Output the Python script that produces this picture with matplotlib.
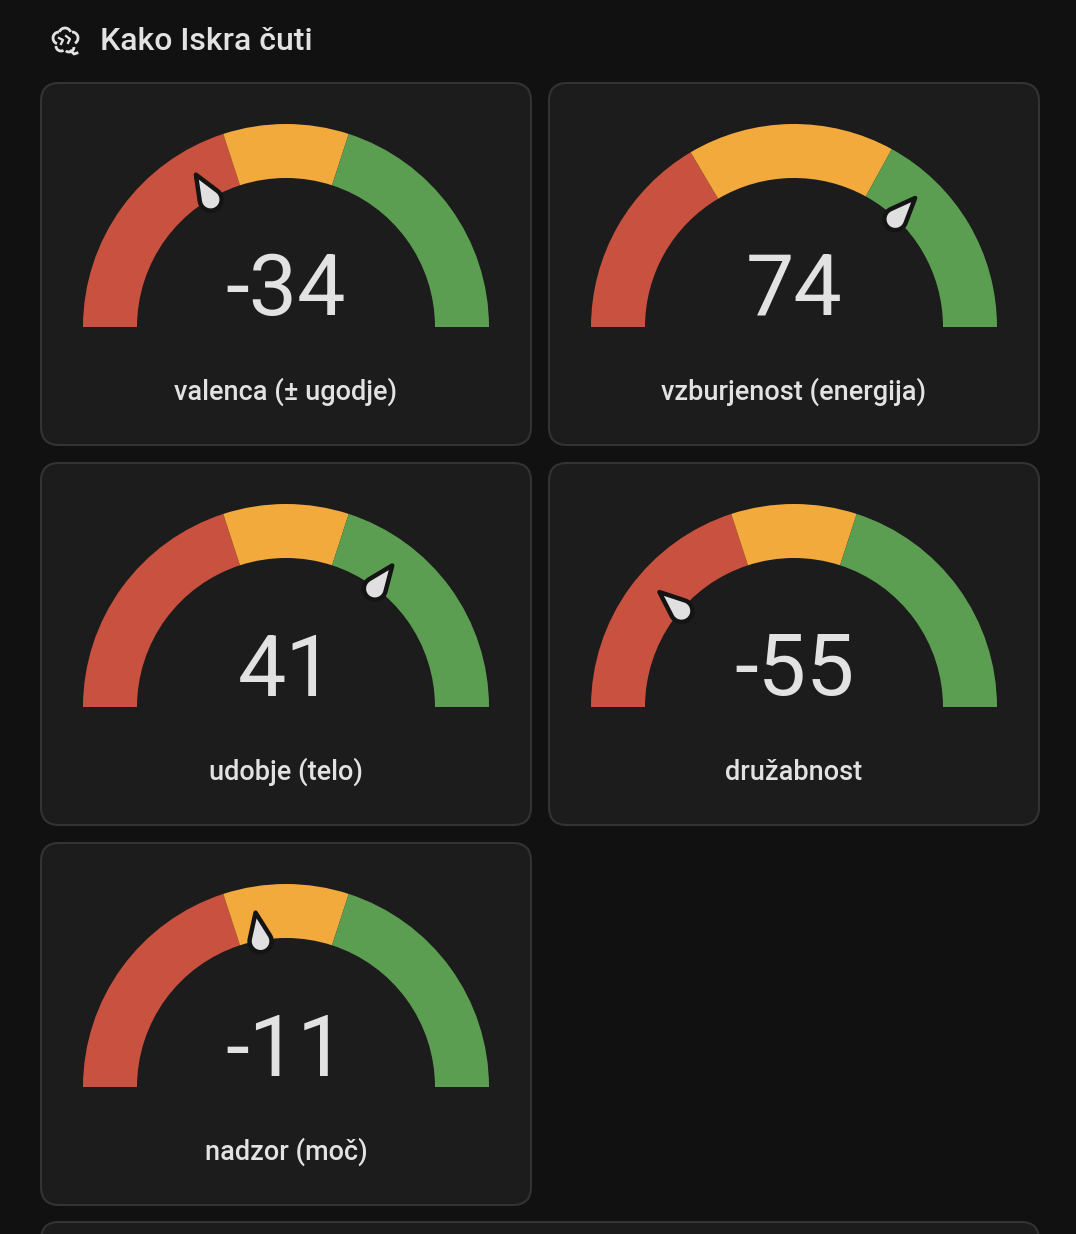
import matplotlib.pyplot as plt
import numpy as np
from matplotlib.patches import FancyBboxPatch, Wedge, Polygon, Arc

plt.rcParams['font.family'] = ['Roboto', 'DejaVu Sans']

title = "Kako Iskra čuti"
labels = ["valenca (± ugodje)", "vzburjenost (energija)", "udobje (telo)", "družabnost", "nadzor (moč)"]
values = [-34, 74, 41, -55, -11]
mins = [-100, 0, -100, -100, -100]
maxs = [100, 100, 100, 100, 100]
thresholds = [[-20, 20], [33, 66], [-20, 20], [-20, 20], [-20, 20]]
band_colors = ["#c95140", "#f2aa3c", "#5c9e51"]

W, H = 1076, 1234
BG = "#111111"
CARD = "#1c1c1c"
EDGE = "#333333"
TXT = "#e2e2e2"

fig = plt.figure(figsize=(W / 100, H / 100), dpi=100, facecolor=BG)
ax = fig.add_axes([0, 0, 1, 1])
ax.set_xlim(0, W)
ax.set_ylim(0, H)
ax.axis('off')


def Y(y):
    # pixel rows from top -> axes coords
    return H - y


# title with a simple brain icon
ax.text(100, Y(41), title, color=TXT, fontsize=23, va='center', ha='left', fontweight='medium')
bx, by = 65, Y(41)
for cx, cy, r, t1, t2 in [(-6, 3, 6, 90, 250), (0, 7, 6, 20, 160), (7, 3, 6, -60, 90),
                          (-4, -5, 5, 180, 300), (4, -6, 5, 230, 360)]:
    ax.add_patch(Arc((bx + cx, by + cy), 2 * r, 2 * r, theta1=t1, theta2=t2, color=TXT, lw=2))
ax.plot([bx + 6, bx + 9, bx + 12], [by - 10, by - 13, by - 12], color=TXT, lw=2)
ax.plot([bx - 6, bx - 2, bx - 4], [by + 3, by + 1, by - 3], color=TXT, lw=1.6)
ax.plot([bx + 1, bx + 5, bx + 3], [by + 5, by + 2, by - 2], color=TXT, lw=1.6)

card_w, card_h = 490, 362
col_x = [41, 549]
row_y = [83, 463, 843]
r_out, r_in = 203, 149

for i, (lab, val) in enumerate(zip(labels, values)):
    x0 = col_x[i % 2]
    y0 = row_y[i // 2]
    ax.add_patch(FancyBboxPatch((x0, Y(y0 + card_h)), card_w, card_h,
                                boxstyle="round,pad=0,rounding_size=18",
                                fc=CARD, ec=EDGE, lw=1.5))
    cx, cy = x0 + card_w / 2, Y(y0 + 244)
    lo, hi = mins[i], maxs[i]
    edges = [lo] + thresholds[i] + [hi]

    def ang(v):
        return 180 - (v - lo) / (hi - lo) * 180

    for k in range(3):
        ax.add_patch(Wedge((cx, cy), r_out, ang(edges[k + 1]), ang(edges[k]),
                           width=r_out - r_in, fc=band_colors[k], ec='none'))

    # needle: teardrop sitting on the inner edge
    a = np.radians(ang(val))
    u = np.array([np.cos(a), np.sin(a)])
    v = np.array([-np.sin(a), np.cos(a)])
    c = np.array([cx, cy]) + 148 * u
    tip = np.array([cx, cy]) + 177 * u
    rr = 11
    alpha = np.arccos(rr / 29)
    ts = np.linspace(alpha, 2 * np.pi - alpha, 40)
    pts = [tip] + [c + rr * (np.cos(t) * u + np.sin(t) * v) for t in ts]
    ax.add_patch(Polygon(pts, closed=True, fc="#e0e0e0", ec="#141414", lw=3.2, joinstyle='round'))

    ax.text(cx, Y(y0 + 209), f"{val}", color=TXT, fontsize=62, ha='center', va='center')
    ax.text(cx, Y(y0 + 309), lab, color=TXT, fontsize=19.5, ha='center', va='center',
            fontweight='medium')

# next card peeking at the bottom
ax.add_patch(FancyBboxPatch((41, Y(1222 + 200)), 998, 200,
                            boxstyle="round,pad=0,rounding_size=18",
                            fc=CARD, ec=EDGE, lw=1.5))

fig.savefig('out.png', dpi=100, facecolor=BG)
